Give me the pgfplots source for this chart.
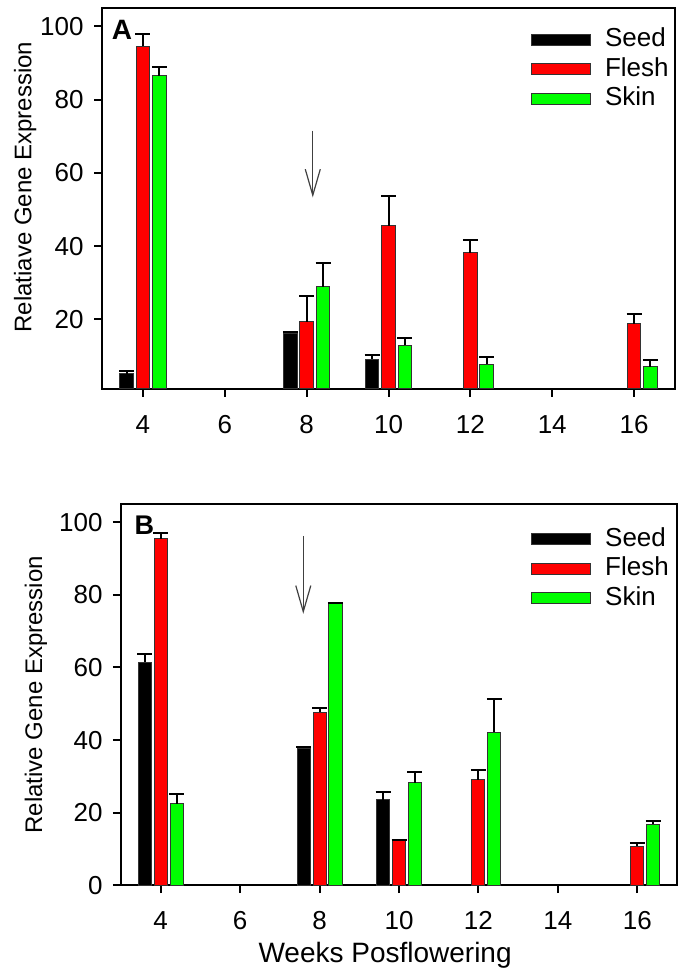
\documentclass[12pt,border=0pt]{standalone}
\usepackage{fontspec}
\setmainfont{Liberation Sans}
\usepackage{pgfplots}
\usepackage{pgfplotstable}
\pgfplotsset{compat=1.18}
\usetikzlibrary{arrows.meta}

\definecolor{seedc}{RGB}{0,0,0}
\definecolor{fleshc}{RGB}{255,0,0}
\definecolor{skinc}{RGB}{0,255,0}

% week, mean, upper error
\pgfplotstableread{
wk  y     e
4   5.2   0.8
8   16.2  0.4
10  9.1   1.2
}\Aseed
\pgfplotstableread{
wk  y     e
4   94.5  3.5
8   19.3  7.0
10  45.5  8.2
12  38.2  3.6
16  18.8  2.6
}\Aflesh
\pgfplotstableread{
wk  y     e
4   86.5  2.5
8   28.9  6.5
10  12.9  2.1
12  7.7   1.9
16  7.1   1.7
}\Askin
\pgfplotstableread{
wk  y     e
4   61.5  2.1
8   37.8  0.2
10  23.5  2.1
}\Bseed
\pgfplotstableread{
wk  y     e
4   95.5  1.5
8   47.7  1.1
10  12.2  0.3
12  29.0  2.8
16  10.8  0.9
}\Bflesh
\pgfplotstableread{
wk  y     e
4   22.5  2.6
8   77.5  0.3
10  28.3  2.8
12  42.1  9.2
16  16.8  0.9
}\Bskin

\pgfplotsset{
  panel/.style={
    scale only axis,
    height=190.5pt,
    xmin=3, xmax=17, ymax=105,
    xtick={4,6,8,10,12,14,16},
    axis line style={line width=1pt},
    every tick/.style={black, line width=1pt},
    major tick length=4pt,
    tick align=outside,
    xtick pos=bottom, ytick pos=left,
    every tick label/.append style={font=\fontsize{13}{15}\selectfont},
    xticklabel style={yshift=-5pt},
    yticklabel style={xshift=-1pt},
    /pgf/number format/assume math mode=true,
    ybar, bar width=0.33,
    legend style={draw=none, fill=none, inner sep=0pt,
      font=\fontsize{13}{15}\selectfont,
      nodes={inner sep=0pt, anchor=base west},
      row sep=3.5pt, column sep=7pt, legend cell align=left},
    legend image code/.code={\draw[##1] (0pt,0.65pt) rectangle (29.5pt,6.15pt);},
    every axis y label/.style={rotate=90, anchor=center,
      font=\fontsize{12}{14}\selectfont},
  },
  bars/.style={draw=black!80, line width=0.5pt, fill=#1,
    error bars/y dir=plus, error bars/y explicit,
    error bars/error bar style={line width=1pt, black},
    error bars/error mark options={rotate=90, mark size=3.75pt, line width=1pt, black}},
}

\begin{document}
\begin{tikzpicture}
\useasboundingbox (0,0) rectangle (339.5pt,489pt);

% Panel A
\begin{axis}[panel, at={(51pt,294.5pt)}, anchor=south west, width=286.5pt,
  ymin=1, ytick={20,40,60,80,100},
  ylabel={Relatiave Gene Expression},
  ylabel style={at={(axis description cs:-0.134,0.53)}},
  legend style={at={(axis description cs:0.748,0.949)}, anchor=north west}]
\addplot[bar shift=-0.4, bars=seedc] table[x=wk, y=y, y error=e] {\Aseed};
\addplot[bar shift=0, bars=fleshc] table[x=wk, y=y, y error=e] {\Aflesh};
\addplot[bar shift=0.4, bars=skinc] table[x=wk, y=y, y error=e] {\Askin};
\legend{Seed, Flesh, Skin}
\node[font=\bfseries\fontsize{14}{16}\selectfont] at (axis cs:3.49,98.9) {A};
\draw[line width=0.6pt, black!75, -{Straight Barb[length=13pt,width=7.5pt]}]
  (axis cs:8.15,71.5) -- (axis cs:8.15,53.3);
\end{axis}

% Panel B
\begin{axis}[panel, at={(60.5pt,46.4pt)}, anchor=south west, width=278pt,
  ymin=0, ytick={0,20,40,60,80,100},
  ylabel={Relative Gene Expression},
  ylabel style={at={(axis description cs:-0.153,0.5)}},
  xlabel={Weeks Posflowering},
  xlabel style={at={(axis description cs:0.475,-0.183)}, anchor=center,
    font=\fontsize{14}{16}\selectfont},
  legend style={at={(axis description cs:0.737,0.94)}, anchor=north west}]
\addplot[bar shift=-0.4, bars=seedc] table[x=wk, y=y, y error=e] {\Bseed};
\addplot[bar shift=0, bars=fleshc] table[x=wk, y=y, y error=e] {\Bflesh};
\addplot[bar shift=0.4, bars=skinc] table[x=wk, y=y, y error=e] {\Bskin};
\legend{Seed, Flesh, Skin}
\node[font=\bfseries\fontsize{13.5}{16}\selectfont] at (axis cs:3.59,99.2) {B};
\draw[line width=0.6pt, black!75, -{Straight Barb[length=13pt,width=7.5pt]}]
  (axis cs:7.59,96.3) -- (axis cs:7.59,74.8);
\end{axis}
\end{tikzpicture}
\end{document}
